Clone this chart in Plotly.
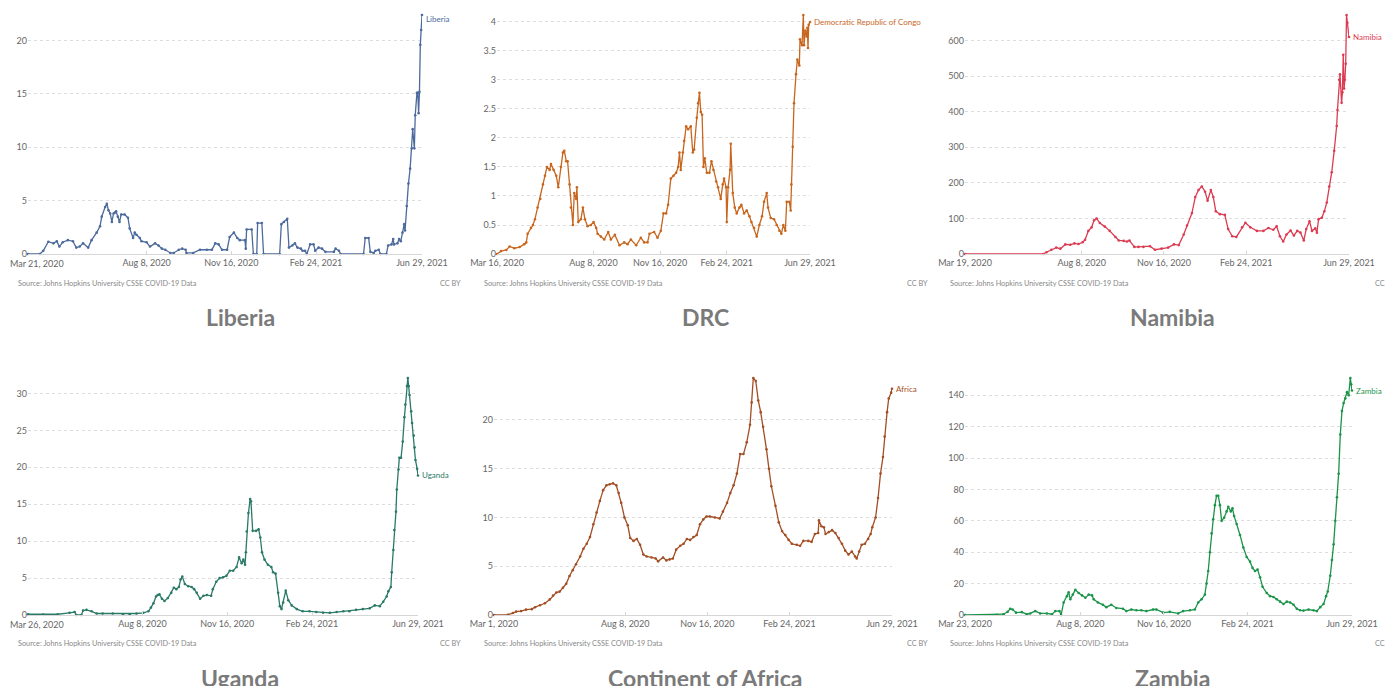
import plotly.graph_objects as go
import pandas as pd

# ---------------- data: (day offset from first date, 7-day avg daily new cases per million) ----------------
liberia_start = "2020-03-21"
liberia = [(0,0),(14,0),(18,0.3),(24,1.15),(30,1.0),(34,1.2),(37,0.7),(41,1.1),(47,1.3),(53,1.2),(57,0.6),
           (61,0.7),(65,1.0),(71,0.6),(75,1.3),(81,2.0),(85,2.6),(87,3.5),(91,4.4),(93,4.7),(95,4.1),(97,3.8),
           (99,3.0),(101,3.8),(103,3.9),(104,4.0),(106,3.5),(108,3.0),(110,3.7),(114,3.7),(118,3.4),(120,2.4),
           (124,1.5),(126,2.0),(128,1.8),(132,1.5),(134,1.2),(140,1.1),(144,0.7),(150,1.0),(154,0.8),(158,0.5),
           (162,0.4),(168,0.1),(172,0.1),(178,0.4),(182,0.5),(186,0.4),(187,0.1),(195,0.1),(203,0.4),(211,0.4),
           (217,0.4),(221,1.0),(225,0.9),(229,0.4),(235,0.4),(238,1.6),(243,2.0),(247,1.5),(250,1.3),(256,1.3),
           (257,0.5),(258,2.3),(264,2.3),(266,0.0),(270,0.0),(271,2.9),(276,2.9),(278,0.0),(297,0.0),(299,2.8),
           (302,3.0),(306,3.3),(308,0.6),(312,0.8),(315,1.0),(318,0.6),(322,0.5),(324,0.3),(327,0.3),(329,0.0),
           (333,0.9),(337,0.9),(339,0.3),(343,0.6),(347,0.5),(351,0.2),(361,0.2),(363,0.5),(367,0.3),(369,0.0),
           (396,0.0),(398,1.5),(402,1.5),(404,0.2),(408,0.1),(410,0.3),(414,0.4),(416,0.0),(423,0.0),(425,0.8),
           (429,0.9),(431,1.4),(432,0.9),(436,1.0),(438,1.4),(440,1.2),(442,2.0),(444,2.8),(445,2.2),(447,4.5),
           (449,6.6),(451,8.0),(453,9.9),(454,11.7),(456,9.9),(457,13.0),(459,15.1),(460,15.1),(461,13.2),
           (462,15.2),(463,19.6),(464,21.0),(465,22.4)]

drc_start = "2020-03-16"
drc = [(0,0.0),(6,0.05),(14,0.07),(19,0.13),(26,0.10),(34,0.12),(41,0.17),(44,0.20),(46,0.35),(51,0.45),
       (54,0.5),(57,0.6),(61,0.8),(65,0.95),(69,1.2),(72,1.35),(75,1.5),(79,1.45),(81,1.55),(85,1.45),(89,1.35),
       (92,1.15),(96,1.5),(99,1.75),(101,1.78),(104,1.6),(106,1.6),(109,1.2),(111,0.8),(114,0.5),(116,1.05),
       (119,0.95),(120,1.15),(122,0.55),(126,0.6),(129,0.8),(132,0.6),(136,0.48),(141,0.5),(145,0.55),(149,0.45),
       (151,0.35),(156,0.3),(161,0.25),(167,0.38),(171,0.25),(177,0.33),(184,0.15),(191,0.2),(196,0.17),
       (201,0.25),(209,0.15),(216,0.28),(221,0.2),(226,0.2),(229,0.35),(236,0.38),(241,0.28),(246,0.4),
       (250,0.7),(254,0.7),(257,0.85),(261,1.3),(265,1.35),(269,1.4),(272,1.5),(274,1.75),(276,1.45),(279,1.75),
       (281,1.95),(284,2.2),(287,2.15),(291,2.2),(294,1.75),(296,1.8),(300,2.35),(302,2.6),(304,2.78),(306,2.45),
       (308,2.4),(310,1.5),(312,1.65),(315,1.4),(319,1.4),(322,1.6),(325,1.45),(329,1.25),(332,1.15),(336,0.95),
       (339,1.2),(341,1.3),(344,1.15),(345,0.55),(347,1.15),(350,1.45),(351,1.9),(354,1.05),(357,0.8),(360,0.7),
       (364,0.8),(367,0.85),(371,0.7),(375,0.75),(379,0.65),(382,0.55),(386,0.45),(390,0.3),(394,0.5),(398,0.65),
       (401,0.9),(405,1.05),(407,0.8),(411,0.62),(416,0.6),(420,0.5),(424,0.4),(427,0.35),(430,0.5),(433,0.4),
       (435,0.9),(439,0.9),(441,0.75),(442,1.2),(444,1.85),(446,2.6),(449,3.1),(451,3.35),(454,3.25),(455,3.7),
       (458,3.6),(460,4.12),(461,3.6),(463,3.85),(465,3.75),(466,3.9),(467,3.55),(468,3.95),(470,4.0)]

namibia_start = "2020-03-19"
namibia = [(0,0),(95,0),(99,5),(105,12),(111,18),(116,15),(122,27),(128,26),(133,30),(138,28),(143,33),(146,40),
           (150,65),(154,75),(157,95),(160,100),(164,87),(170,77),(176,65),(183,48),(187,38),(193,37),(197,35),
           (200,38),(206,20),(211,20),(217,20),(225,22),(231,12),(239,15),(247,18),(254,27),(260,25),(266,55),
           (270,80),(276,115),(280,160),(284,180),(288,190),(292,175),(295,150),(299,180),(302,160),(305,120),
           (310,112),(316,110),(320,70),(325,50),(330,48),(337,75),(341,88),(347,75),(355,65),(363,65),(369,73),
           (375,68),(379,78),(383,50),(387,35),(391,55),(396,66),(400,52),(404,65),(408,60),(412,38),(415,70),
           (419,92),(422,65),(426,72),(428,60),(430,98),(434,102),(437,120),(440,145),(443,190),(446,230),
           (449,290),(452,360),(453,405),(455,490),(456,505),(458,425),(459,455),(460,560),(461,465),(462,490),
           (463,535),(464,672),(465,650),(467,610)]

uganda_start = "2020-03-26"
uganda = [(0,0.1),(18,0.05),(35,0.1),(49,0.3),(55,0.4),(57,0.0),(63,0.0),(65,0.6),(69,0.7),(75,0.5),(81,0.2),
          (88,0.2),(100,0.2),(112,0.1),(120,0.1),(128,0.2),(136,0.3),(142,0.5),(145,1.0),(148,1.6),(151,2.5),
          (153,2.7),(155,2.8),(158,2.2),(161,1.9),(165,2.3),(169,3.0),(172,3.7),(175,3.5),(178,3.8),(180,4.8),
          (182,5.2),(185,4.2),(189,3.9),(193,3.8),(196,3.5),(199,3.0),(203,2.2),(207,2.6),(211,2.7),(216,2.6),
          (218,3.5),(222,4.5),(226,5.0),(230,5.1),(234,5.3),(238,6.0),(242,6.0),(246,6.5),(249,7.8),(252,7.0),
          (254,7.5),(256,6.8),(257,8.5),(258,11.3),(260,13.8),(262,15.7),(263,15.4),(265,11.4),(269,11.4),
          (272,11.6),(274,10.5),(276,8.5),(279,7.5),(283,6.8),(287,6.5),(289,5.8),(292,5.6),(295,3.0),(297,1.2),
          (299,0.8),(301,1.7),(304,3.3),(307,2.0),(311,1.3),(317,0.8),(324,0.5),(332,0.5),(340,0.4),(348,0.3),
          (356,0.3),(364,0.4),(372,0.5),(379,0.5),(387,0.7),(395,0.8),(403,0.9),(409,1.3),(415,1.2),(419,1.8),
          (423,2.5),(425,3.2),(428,3.8),(429,5.8),(431,8.8),(432,11.5),(434,14.0),(435,17.0),(437,19.7),
          (438,21.3),(440,21.3),(442,23.5),(444,26.8),(445,28.5),(447,31.0),(448,32.1),(449,31.0),(450,29.8),
          (452,27.6),(453,26.0),(455,24.3),(456,22.7),(457,21.0),(459,19.8),(460,18.9)]

africa_start = "2020-03-01"
africa = [(0,0),(17,0.03),(23,0.2),(27,0.35),(33,0.4),(39,0.55),(46,0.6),(50,0.8),(56,1.0),(62,1.2),(68,1.6),
          (72,2.0),(76,2.3),(80,2.4),(84,2.8),(88,3.2),(92,4.0),(96,4.6),(100,5.2),(105,6.0),(109,6.8),(113,7.3),
          (117,8.0),(121,9.3),(125,10.5),(129,11.7),(133,12.8),(137,13.3),(141,13.4),(145,13.5),(149,13.3),
          (152,12.5),(155,11.5),(159,10.0),(163,9.2),(166,7.9),(170,7.6),(174,7.8),(178,7.2),(182,6.2),(186,6.0),
          (192,5.9),(197,5.8),(200,5.5),(206,5.9),(210,5.6),(214,5.7),(218,5.8),(222,6.7),(227,7.1),(231,7.3),
          (235,7.8),(239,7.7),(243,8.0),(247,8.2),(251,9.3),(255,9.8),(259,10.1),(263,10.1),(269,10.0),(275,9.9),
          (279,10.6),(284,11.5),(288,12.5),(292,13.3),(296,14.5),(300,16.5),(304,16.5),(308,17.7),(312,19.5),
          (314,21.8),(316,24.3),(319,24.0),(322,22.0),(325,20.8),(328,19.3),(332,17.0),(335,15.0),(338,13.2),
          (343,11.2),(347,9.5),(351,8.6),(355,8.2),(359,7.7),(363,7.3),(369,7.2),(373,7.1),(377,7.6),(383,7.6),
          (387,7.5),(391,8.3),(395,8.4),(396,9.7),(399,9.1),(402,9.0),(404,8.3),(408,8.5),(412,8.7),(416,8.4),
          (420,7.9),(424,7.3),(428,6.6),(432,6.2),(436,6.5),(440,6.0),(442,5.8),(445,6.5),(448,7.2),(452,7.3),
          (456,7.8),(459,8.3),(461,9.0),(465,10.0),(468,12.0),(471,14.5),(474,16.2),(476,18.3),(479,20.8),
          (481,22.2),(484,22.8),(485,23.2)]

zambia_start = "2020-03-23"
zambia = [(0,0),(38,0.2),(46,0.5),(51,2.0),(54,4.0),(57,3.5),(61,1.5),(68,1.8),(74,0.5),(78,1.0),(84,2.5),
          (90,1.0),(98,1.0),(104,0.5),(108,2.5),(113,2.5),(115,0.0),(118,8.0),(122,12.0),(124,14.5),(126,10.0),
          (129,13.0),(132,16.0),(136,14.0),(140,12.5),(144,11.0),(148,13.0),(152,12.5),(154,10.0),(159,8.0),
          (165,6.5),(169,5.0),(175,6.5),(181,4.5),(189,4.0),(193,2.5),(199,3.5),(205,3.0),(211,3.0),(217,2.5),
          (225,3.5),(229,3.5),(237,1.5),(245,2.0),(255,1.0),(261,2.5),(269,3.0),(275,3.5),(279,8.0),(283,10.0),
          (287,13.0),(289,20.0),(291,28.0),(293,40.0),(295,52.0),(297,61.0),(299,70.0),(301,76.0),(303,76.0),
          (305,70.0),(307,60.0),(310,62.0),(313,66.0),(315,69.0),(318,66.0),(320,68.0),(322,63.0),(325,58.0),
          (329,51.0),(333,43.0),(337,37.0),(341,34.0),(344,30.0),(347,28.0),(350,29.0),(353,24.0),(356,18.0),
          (361,14.0),(365,12.0),(369,11.5),(373,10.0),(377,8.5),(381,7.0),(385,8.5),(389,8.0),(393,6.5),
          (397,4.0),(401,3.0),(405,2.8),(411,3.5),(417,3.0),(421,2.5),(425,5.0),(429,7.0),(432,12.0),(434,15.0),
          (437,25.0),(439,35.0),(441,45.0),(443,60.0),(445,75.0),(447,90.0),(449,115.0),(451,130.0),(453,135.0),
          (455,138.0),(457,142.0),(459,140.0),(461,151.0),(462,147.0),(463,143.0)]

mid_ticks = ["2020-08-08", "2020-11-16", "2021-02-24", "2021-06-29"]
mid_tick_text = ["Aug 8, 2020", "Nov 16, 2020", "Feb 24, 2021", "Jun 29, 2021"]

series = [
    dict(title="Liberia", label="Liberia", start=liberia_start, first_text="Mar 21, 2020", data=liberia,
         color="#4C6A9C", yticks=[0, 5, 10, 15, 20], ytext=["0", "5", "10", "15", "20"]),
    dict(title="DRC", label="Democratic Republic of Congo", start=drc_start, first_text="Mar 16, 2020", data=drc,
         color="#C8661E", yticks=[0, 0.5, 1, 1.5, 2, 2.5, 3, 3.5, 4],
         ytext=["0", "0.5", "1", "1.5", "2", "2.5", "3", "3.5", "4"]),
    dict(title="Namibia", label="Namibia", start=namibia_start, first_text="Mar 19, 2020", data=namibia,
         color="#DC3C52", yticks=[0, 100, 200, 300, 400, 500, 600],
         ytext=["0", "100", "200", "300", "400", "500", "600"]),
    dict(title="Uganda", label="Uganda", start=uganda_start, first_text="Mar 26, 2020", data=uganda,
         color="#2B7A68", yticks=[0, 5, 10, 15, 20, 25, 30], ytext=["0", "5", "10", "15", "20", "25", "30"]),
    dict(title="Continent of Africa", label="Africa", start=africa_start, first_text="Mar 1, 2020", data=africa,
         color="#A34E24", yticks=[0, 5, 10, 15, 20], ytext=["0", "5", "10", "15", "20"]),
    dict(title="Zambia", label="Zambia", start=zambia_start, first_text="Mar 23, 2020", data=zambia,
         color="#1B9449", yticks=[0, 20, 40, 60, 80, 100, 120, 140],
         ytext=["0", "20", "40", "60", "80", "100", "120", "140"]),
]

# ---------------- layout geometry (window pixels) ----------------
WIN_W, WIN_H = 1394, 686
OFF = 8  # default page body margin: the figure starts 8px into the window
W, H = WIN_W - OFF, WIN_H - OFF
plot_x = [(28, 422), (497, 810), (965, 1349), (28, 418), (494, 892), (965, 1352)]
row_y = [(15, 254), (378, 615)]
src_x = [16, 482, 948]
ccby_x = [463, 930, 1398]
src_y = [283, 643]
title_cx = [240, 705, 1172]
title_y = [317, 678]
first_label_y = [263, 624]
label_yshift = [-4, 0, 0, 0, 0, 0]
# first date labels clamped to the left edge (would overflow the page otherwise)
first_as_note = [True, False, False, True, False, False]

FONT = "Lato, 'Liberation Sans', Arial, sans-serif"

def px(x):
    return (x - OFF) / W

def py(y):
    return 1 - (y - OFF) / H

fig = go.Figure()
annotations = []
layout = {}

for i, s in enumerate(series):
    k = i + 1
    row = 0 if i < 3 else 1
    col = i % 3
    start = pd.Timestamp(s["start"])
    days = [d for d, _ in s["data"]]
    vals = [v for _, v in s["data"]]
    dates = [start + pd.Timedelta(days=d) for d in days]
    xa = "x" if k == 1 else f"x{k}"
    ya = "y" if k == 1 else f"y{k}"
    fig.add_trace(go.Scatter(
        x=dates, y=vals, mode="lines+markers", xaxis=xa, yaxis=ya,
        line=dict(color=s["color"], width=1.3),
        marker=dict(color=s["color"], size=2.6),
        cliponaxis=False, showlegend=False, hoverinfo="skip"))
    end = pd.Timestamp("2021-06-29")
    ymax = max(vals)
    x0, x1 = plot_x[i]
    y0, y1 = row_y[row]
    first_tick_text = "" if first_as_note[i] else s["first_text"]
    layout["xaxis" if k == 1 else f"xaxis{k}"] = dict(
        domain=[px(x0), px(x1)], anchor=ya, range=[start, end], automargin=False,
        tickvals=[start] + [pd.Timestamp(t) for t in mid_ticks],
        ticktext=[first_tick_text] + mid_tick_text, ticklabeloverflow="allow",
        showgrid=False, zeroline=False, showline=True, linecolor="#d6d6d6", linewidth=1,
        ticks="inside", ticklen=3, tickcolor="#d6d6d6",
        tickfont=dict(family=FONT, size=9, color="#666666"), fixedrange=True)
    layout["yaxis" if k == 1 else f"yaxis{k}"] = dict(
        domain=[py(y1), py(y0)], anchor=xa, range=[0, ymax], automargin=False,
        tickvals=s["yticks"], ticktext=s["ytext"],
        showgrid=True, gridcolor="#dddddd", griddash="dot", gridwidth=1,
        zeroline=False, showline=False, ticks="",
        tickfont=dict(family=FONT, size=9, color="#666666"), fixedrange=True)
    if first_as_note[i]:
        annotations.append(dict(
            xref="paper", yref="paper", x=px(OFF), y=py(first_label_y[row]),
            text=s["first_text"], showarrow=False, xanchor="left", yanchor="middle",
            font=dict(family=FONT, size=9, color="#666666")))
    # end label
    annotations.append(dict(
        xref=xa, yref=ya, x=dates[-1], y=vals[-1], text=s["label"], showarrow=False,
        xanchor="left", yanchor="middle", xshift=2, yshift=label_yshift[i],
        font=dict(family=FONT, size=8, color=s["color"])))
    # source and licence
    annotations.append(dict(
        xref="paper", yref="paper", x=px(src_x[col]), y=py(src_y[row]),
        text="Source: Johns Hopkins University CSSE COVID-19 Data", showarrow=False,
        xanchor="left", yanchor="middle", font=dict(family=FONT, size=7.3, color="#888888")))
    annotations.append(dict(
        xref="paper", yref="paper", x=px(ccby_x[col]), y=py(src_y[row]),
        text="CC BY", showarrow=False, xanchor="right", yanchor="middle",
        font=dict(family=FONT, size=7.3, color="#888888")))
    # big panel title
    annotations.append(dict(
        xref="paper", yref="paper", x=px(title_cx[col]), y=py(title_y[row]),
        text=f"<b>{s['title']}</b>", showarrow=False, xanchor="center", yanchor="middle",
        font=dict(family=FONT, size=23, color="#7a7a7a")))

fig.update_layout(
    width=W, height=H, autosize=False,
    margin=dict(l=0, r=0, t=0, b=0, autoexpand=False),
    paper_bgcolor="white", plot_bgcolor="white",
    annotations=annotations, **layout)

fig.write_html("out.html")
